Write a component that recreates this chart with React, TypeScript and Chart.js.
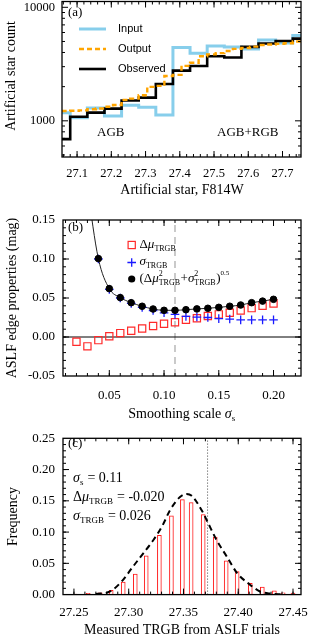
import React, { useEffect, useRef } from 'react';
import { Chart, registerables } from 'chart.js';
Chart.register(...registerables);

const SERIF = '"Liberation Serif", "Times New Roman", Times, serif';
const SANS = '"Liberation Sans", Arial, Helvetica, sans-serif';

// ---------- Panel (a): artificial star luminosity functions ----------
const magEdgesCoarse = [27.03, 27.08, 27.13, 27.18, 27.23, 27.28, 27.33, 27.38, 27.43, 27.48, 27.53, 27.58, 27.63, 27.68, 27.73, 27.78];
const inputCounts = [1180, 1065, 1300, 1100, 1370, 1320, 1125, 4420, 3940, 4560, 4470, 4300, 5150, 4850, 5650];
const observedCounts = [690, 1085, 1180, 1280, 1510, 1600, 2110, 2770, 3040, 3700, 3610, 4480, 4800, 5050, 5300];
const magEdgesFine = [27.03, 27.055, 27.08, 27.105, 27.13, 27.155, 27.18, 27.205, 27.23, 27.255, 27.28, 27.305, 27.33, 27.355, 27.38, 27.405, 27.43, 27.455, 27.48, 27.505, 27.53, 27.555, 27.58, 27.605, 27.63, 27.655, 27.68, 27.705, 27.73, 27.755, 27.78];
const outputCounts = [1210, 1220, 1225, 1235, 1265, 1285, 1330, 1380, 1530, 1570, 1680, 1990, 2030, 2480, 2540, 3050, 3250, 3700, 3850, 3950, 4120, 4300, 4380, 4500, 4650, 4700, 4780, 4830, 5000, 5100];
const aXTicks = [27.1, 27.2, 27.3, 27.4, 27.5, 27.6, 27.7];
const aYTicks = [1000, 10000];
const aYMinor = [500, 600, 700, 800, 900, 2000, 3000, 4000, 5000, 6000, 7000, 8000, 9000];
const aXRange = [27.056, 27.754];
const aYRange = [480, 11250];

// ---------- Panel (b): ASLF edge properties vs smoothing scale ----------
const smoothingScale = [0.02, 0.03, 0.04, 0.05, 0.06, 0.07, 0.08, 0.09, 0.10, 0.11, 0.12, 0.13, 0.14, 0.15, 0.16, 0.17, 0.18, 0.19, 0.20];
const deltaMu = [-0.006, -0.012, -0.004, 0.001, 0.005, 0.008, 0.011, 0.014, 0.017, 0.019, 0.022, 0.024, 0.027, 0.029, 0.031, 0.034, 0.037, 0.040, 0.043];
const sigmaTrgb = [null, null, 0.100, 0.061, 0.050, 0.043, 0.038, 0.034, 0.031, 0.029, 0.0265, 0.0256, 0.025, 0.0235, 0.023, 0.022, 0.022, 0.022, 0.022];
const combinedErr = [null, 0.19, 0.1005, 0.062, 0.0505, 0.044, 0.0394, 0.0359, 0.0342, 0.0342, 0.035, 0.036, 0.0368, 0.038, 0.0394, 0.041, 0.044, 0.046, 0.0483];
const chosenScale = 0.11;
const bXTicks = [0.05, 0.10, 0.15, 0.20];
const bYTicks = [-0.05, 0, 0.05, 0.10, 0.15];
const bXRange = [0.0077, 0.2251];
const bYRange = [-0.05, 0.15];

// ---------- Panel (c): distribution of measured TRGB ----------
const trgbMeasured = [27.251, 27.263, 27.274, 27.284, 27.295, 27.306, 27.316, 27.328, 27.339, 27.349, 27.357, 27.368, 27.379, 27.389, 27.399, 27.411, 27.422, 27.433, 27.441, 27.450];
const trgbFrequency = [0.001, 0.002, 0.003, 0.007, 0.020, 0.033, 0.062, 0.095, 0.126, 0.152, 0.147, 0.128, 0.092, 0.054, 0.037, 0.018, 0.012, 0.006, 0.003, 0.0025];
const gaussX = [27.270, 27.283, 27.2936, 27.304, 27.3133, 27.3224, 27.331, 27.3377, 27.3468, 27.3529, 27.3575, 27.3666, 27.3726, 27.3803, 27.3895, 27.3991, 27.4092, 27.4199, 27.430, 27.440];
const gaussY = [0.0008, 0.005, 0.021, 0.045, 0.066, 0.087, 0.111, 0.135, 0.156, 0.161, 0.158, 0.135, 0.114, 0.087, 0.061, 0.034, 0.018, 0.005, 0.0015, 0.0004];
const trueTrgb = 27.372;
const cXTicks = [27.25, 27.30, 27.35, 27.40, 27.45];
const cYTicks = [0, 0.05, 0.10, 0.15, 0.20, 0.25];
const cXRange = [27.24, 27.4573];
const cYRange = [0, 0.25];

// ---------- helpers ----------
function steps(a: number, b: number, step: number) {
  const out: number[] = [];
  const n = Math.round((b - a) / step);
  for (let i = 0; i <= n; i++) out.push(+(a + i * step).toFixed(6));
  return out;
}

function stepData(edges: number[], vals: number[]) {
  const pts = vals.map((v, i) => ({ x: edges[i], y: v }));
  pts.push({ x: edges[edges.length - 1], y: vals[vals.length - 1] });
  return pts;
}

type Run = { t?: string; it?: boolean; sup?: string; sub?: string; supSize?: number; supDy?: number };

function fnt(size: number, italic?: boolean) {
  return `${italic ? 'italic ' : ''}${size}px ${SERIF}`;
}

function runsWidth(ctx: CanvasRenderingContext2D, runs: Run[], base: number) {
  let w = 0;
  for (const r of runs) {
    if (r.sup !== undefined || r.sub !== undefined) {
      let w1 = 0, w2 = 0;
      if (r.sup) { ctx.font = fnt(r.supSize ?? Math.round(base * 0.62)); w1 = ctx.measureText(r.sup).width; }
      if (r.sub) { ctx.font = fnt(Math.round(base * 0.65)); w2 = ctx.measureText(r.sub).width; }
      w += Math.max(w1, w2) + 0.5;
    } else {
      ctx.font = fnt(base, r.it);
      w += ctx.measureText(r.t || '').width;
    }
  }
  return w;
}

function drawRuns(ctx: CanvasRenderingContext2D, x: number, y: number, runs: Run[], base: number, align: 'left' | 'center' = 'left') {
  ctx.save();
  ctx.fillStyle = '#000';
  ctx.textBaseline = 'middle';
  ctx.textAlign = 'left';
  let cx = align === 'center' ? x - runsWidth(ctx, runs, base) / 2 : x;
  for (const r of runs) {
    if (r.sup !== undefined || r.sub !== undefined) {
      let w1 = 0, w2 = 0;
      if (r.sup) {
        const s = r.supSize ?? Math.round(base * 0.62);
        ctx.font = fnt(s);
        ctx.fillText(r.sup, cx, y + (r.supDy ?? -base * 0.42));
        w1 = ctx.measureText(r.sup).width;
      }
      if (r.sub) {
        ctx.font = fnt(Math.round(base * 0.65));
        ctx.fillText(r.sub, cx, y + base * 0.32);
        w2 = ctx.measureText(r.sub).width;
      }
      cx += Math.max(w1, w2) + 0.5;
    } else {
      ctx.font = fnt(base, r.it);
      ctx.fillText(r.t || '', cx, y);
      cx += ctx.measureText(r.t || '').width;
    }
  }
  ctx.restore();
}

function drawRotated(ctx: CanvasRenderingContext2D, x: number, y: number, runs: Run[], base: number) {
  ctx.save();
  ctx.translate(x, y);
  ctx.rotate(-Math.PI / 2);
  drawRuns(ctx, 0, 0, runs, base, 'center');
  ctx.restore();
}

function framePlugin(xMajor: number[], xMinor: number[], yMajor: number[], yMinor: number[]) {
  return {
    id: 'frameTicks',
    afterDatasetsDraw(chart: any) {
      const { ctx, chartArea, scales } = chart;
      const { left, right, top, bottom } = chartArea;
      ctx.save();
      ctx.strokeStyle = '#000';
      ctx.lineWidth = 1.3;
      ctx.setLineDash([]);
      ctx.strokeRect(left, top, right - left, bottom - top);
      ctx.beginPath();
      const xt = (vals: number[], len: number) => vals.forEach((v) => {
        const p = scales.x.getPixelForValue(v);
        if (p < left + 0.5 || p > right - 0.5) return;
        ctx.moveTo(p, bottom); ctx.lineTo(p, bottom - len);
        ctx.moveTo(p, top); ctx.lineTo(p, top + len);
      });
      const yt = (vals: number[], len: number) => vals.forEach((v) => {
        const p = scales.y.getPixelForValue(v);
        if (p < top + 0.5 || p > bottom - 0.5) return;
        ctx.moveTo(left, p); ctx.lineTo(left + len, p);
        ctx.moveTo(right, p); ctx.lineTo(right - len, p);
      });
      xt(xMinor, 3); xt(xMajor, 6);
      yt(yMinor, 3); yt(yMajor, 6);
      ctx.lineWidth = 1;
      ctx.stroke();
      ctx.restore();
    },
  };
}

function scaleOpts(type: string, range: number[], majors: number[], fmt: (v: number) => string, fontSize: number, pad: number, fixed: number, horizontal: boolean) {
  return {
    type,
    min: range[0],
    max: range[1],
    offset: false,
    grid: { display: false, drawTicks: false, offset: false },
    border: { display: false },
    ticks: {
      autoSkip: false,
      maxRotation: 0,
      minRotation: 0,
      padding: pad,
      color: '#000',
      font: { family: SERIF, size: fontSize },
      callback: (v: any) => fmt(Number(v)),
    },
    afterBuildTicks: (s: any) => { s.ticks = majors.map((v) => ({ value: v })); },
    afterFit: (s: any) => {
      if (horizontal) s.height = fixed; else s.width = fixed;
      s.paddingLeft = 0; s.paddingRight = 0; s.paddingTop = 0; s.paddingBottom = 0;
    },
  };
}

const baseOpts = {
  animation: false,
  responsive: false,
  events: [] as string[],
};

// ---------- chart configs ----------
function configA() {
  const text = {
    id: 'textA',
    afterDraw(chart: any) {
      const ctx: CanvasRenderingContext2D = chart.ctx;
      drawRuns(ctx, 68, 13, [{ t: '(a)' }], 13);
      ctx.save();
      const legendRows = [
        { y: 29, color: '#87CEEB', w: 3, dash: [] as number[], label: 'Input' },
        { y: 49, color: '#FFA500', w: 2.4, dash: [5, 3], label: 'Output' },
        { y: 69, color: '#000000', w: 2.6, dash: [] as number[], label: 'Observed' },
      ];
      legendRows.forEach((r) => {
        ctx.beginPath();
        ctx.strokeStyle = r.color;
        ctx.lineWidth = r.w;
        ctx.setLineDash(r.dash);
        ctx.moveTo(79, r.y); ctx.lineTo(106, r.y);
        ctx.stroke();
        ctx.setLineDash([]);
        ctx.fillStyle = '#000';
        ctx.font = `11px ${SANS}`;
        ctx.textBaseline = 'middle';
        ctx.fillText(r.label, 118, r.y);
      });
      ctx.restore();
      drawRuns(ctx, 97, 132.5, [{ t: 'AGB' }], 13);
      drawRuns(ctx, 217, 132.5, [{ t: 'AGB+RGB' }], 13);
      drawRotated(ctx, 11, 76, [{ t: 'Artificial star count' }], 14);
      drawRuns(ctx, 182, 190, [{ t: 'Artificial star, F814W' }], 14, 'center');
    },
  };
  return {
    type: 'line',
    data: {
      datasets: [
        { label: 'Output', data: stepData(magEdgesFine, outputCounts), stepped: true, borderColor: '#FFA500', borderWidth: 2.4, borderDash: [5, 3], pointRadius: 0, clip: 0, order: 0 },
        { label: 'Observed', data: stepData(magEdgesCoarse, observedCounts), stepped: true, borderColor: '#000000', borderWidth: 2.6, pointRadius: 0, clip: 0, order: 1 },
        { label: 'Input', data: stepData(magEdgesCoarse, inputCounts), stepped: true, borderColor: '#87CEEB', borderWidth: 3, pointRadius: 0, clip: 0, order: 2 },
      ],
    },
    options: {
      ...baseOpts,
      layout: { padding: { top: 1.5, right: 14, left: 0, bottom: 0 } },
      plugins: { legend: { display: false }, tooltip: { enabled: false } },
      scales: {
        x: scaleOpts('linear', aXRange, aXTicks, (v) => v.toFixed(1), 12.5, 9, 43, true),
        y: scaleOpts('logarithmic', aYRange, aYTicks, (v) => String(Math.round(v)), 12.5, 7, 62, false),
      },
    },
    plugins: [framePlugin(aXTicks, steps(27.06, 27.74, 0.02), aYTicks, aYMinor), text],
  };
}

function configB() {
  const text = {
    id: 'textB',
    afterDraw(chart: any) {
      const ctx: CanvasRenderingContext2D = chart.ctx;
      drawRuns(ctx, 68, 28, [{ t: '(b)' }], 13);
      ctx.save();
      // legend symbols
      ctx.strokeStyle = '#ff2a2a'; ctx.lineWidth = 1.2;
      ctx.strokeRect(131.7 - 3.6, 45 - 3.6, 7.2, 7.2);
      ctx.strokeStyle = '#1a1aff'; ctx.lineWidth = 1.3;
      ctx.beginPath();
      ctx.moveTo(131.7 - 4.3, 62.5); ctx.lineTo(131.7 + 4.3, 62.5);
      ctx.moveTo(131.7, 62.5 - 4.3); ctx.lineTo(131.7, 62.5 + 4.3);
      ctx.stroke();
      ctx.fillStyle = '#000';
      ctx.beginPath(); ctx.arc(131.7, 79, 3.6, 0, Math.PI * 2); ctx.fill();
      ctx.restore();
      drawRuns(ctx, 139.5, 45, [{ t: 'Δ' }, { t: 'μ', it: true }, { sub: 'TRGB' }], 13);
      drawRuns(ctx, 139.5, 61.5, [{ t: 'σ', it: true }, { sub: 'TRGB' }], 13);
      drawRuns(ctx, 139.5, 79, [
        { t: '(Δ' }, { t: 'μ', it: true }, { sup: '2', sub: 'TRGB' }, { t: '+' }, { t: 'σ', it: true },
        { sup: '2', sub: 'TRGB' }, { t: ')' }, { sup: '0.5', supSize: 7, supDy: -6 },
      ], 13);
      drawRotated(ctx, 12, 98, [{ t: 'ASLF edge properties (mag)' }], 14);
      drawRuns(ctx, 182, 214, [{ t: 'Smoothing scale ' }, { t: 'σ', it: true }, { sub: 's' }], 14, 'center');
    },
  };
  return {
    type: 'line',
    data: {
      datasets: [
        { label: 'combined', data: smoothingScale.map((s, i) => ({ x: s, y: combinedErr[i] })), showLine: false, pointStyle: 'circle', pointRadius: 3.3, pointBorderWidth: 1, pointBackgroundColor: '#000', pointBorderColor: '#000', order: 0 },
        { label: 'sigma', data: smoothingScale.map((s, i) => ({ x: s, y: sigmaTrgb[i] })), showLine: false, pointStyle: 'cross', pointRadius: 4.3, pointBorderWidth: 1.3, pointBorderColor: '#1a1aff', order: 1 },
        { label: 'curve', data: smoothingScale.map((s, i) => ({ x: s, y: combinedErr[i] })), borderColor: '#222', borderWidth: 1, pointRadius: 0, cubicInterpolationMode: 'monotone', spanGaps: true, clip: 0, order: 2 },
        { label: 'deltaMu', data: smoothingScale.map((s, i) => ({ x: s, y: deltaMu[i] })), showLine: false, pointStyle: 'rect', pointRadius: 5.1, pointBorderWidth: 1.2, pointBorderColor: '#ff2a2a', pointBackgroundColor: 'rgba(0,0,0,0)', order: 3 },
        { label: 'zero', data: [{ x: bXRange[0], y: 0 }, { x: bXRange[1], y: 0 }], borderColor: '#000', borderWidth: 1, pointRadius: 0, clip: 0, order: 4 },
        { label: 'chosen', data: [{ x: chosenScale, y: bYRange[0] }, { x: chosenScale, y: bYRange[1] }], borderColor: '#bdbdbd', borderWidth: 1.6, borderDash: [7, 5], pointRadius: 0, clip: 0, order: 5 },
      ],
    },
    options: {
      ...baseOpts,
      layout: { padding: { top: 20, right: 14, left: 0, bottom: 12 } },
      plugins: { legend: { display: false }, tooltip: { enabled: false } },
      scales: {
        x: scaleOpts('linear', bXRange, bXTicks, (v) => v.toFixed(2), 13, 12, 44, true),
        y: scaleOpts('linear', bYRange, bYTicks, (v) => (Math.abs(v) < 1e-9 ? '0.00' : v.toFixed(2)), 13, 8, 63, false),
      },
    },
    plugins: [framePlugin(bXTicks, steps(0.01, 0.22, 0.01), bYTicks, steps(-0.05, 0.15, 0.01)), text],
  };
}

function configC() {
  const text = {
    id: 'textC',
    afterDraw(chart: any) {
      const ctx: CanvasRenderingContext2D = chart.ctx;
      drawRuns(ctx, 68, 24, [{ t: '(c)' }], 13);
      drawRuns(ctx, 73, 58, [{ t: 'σ', it: true }, { sub: 's' }, { t: ' = 0.11' }], 14);
      drawRuns(ctx, 73, 77, [{ t: 'Δ' }, { t: 'μ', it: true }, { sub: 'TRGB' }, { t: ' = -0.020' }], 14);
      drawRuns(ctx, 73, 96, [{ t: 'σ', it: true }, { sub: 'TRGB' }, { t: ' = 0.026' }], 14);
      drawRotated(ctx, 13, 96.5, [{ t: 'Frequency' }], 14);
      drawRuns(ctx, 182, 210, [{ t: 'Measured TRGB from ASLF trials' }], 14, 'center');
    },
  };
  return {
    type: 'bar',
    data: {
      datasets: [
        { type: 'line', label: 'gauss', data: gaussX.map((x, i) => ({ x, y: gaussY[i] })), borderColor: '#000', borderWidth: 2, borderDash: [6, 4], pointRadius: 0, cubicInterpolationMode: 'monotone', clip: 0, order: 0 },
        { type: 'line', label: 'true', data: [{ x: trueTrgb, y: cYRange[0] }, { x: trueTrgb, y: cYRange[1] }], borderColor: '#444', borderWidth: 1, borderDash: [1, 2], pointRadius: 0, clip: 0, order: 1 },
        { type: 'bar', label: 'freq', data: trgbMeasured.map((x, i) => ({ x, y: trgbFrequency[i] })), backgroundColor: '#ffffff', borderColor: '#ff1a1a', borderWidth: 1, barThickness: 4, borderSkipped: false, order: 2 },
      ],
    },
    options: {
      ...baseOpts,
      layout: { padding: { top: 18.3, right: 14, left: 0, bottom: 0 } },
      plugins: { legend: { display: false }, tooltip: { enabled: false } },
      scales: {
        x: scaleOpts('linear', cXRange, cXTicks, (v) => v.toFixed(2), 13, 10, 43.4, true),
        y: scaleOpts('linear', cYRange, cYTicks, (v) => v.toFixed(2), 13, 8, 63, false),
      },
    },
    plugins: [framePlugin(cXTicks, steps(27.24, 27.45, 0.01), cYTicks, steps(0, 0.25, 0.01)), text],
  };
}

function ChartCanvas({ top, height, build }: { top: number; height: number; build: () => any }) {
  const ref = useRef<HTMLCanvasElement>(null);
  useEffect(() => {
    const chart = new Chart(ref.current as HTMLCanvasElement, build());
    return () => chart.destroy();
  }, []);
  return (
    <canvas
      ref={ref}
      width={315}
      height={height}
      style={{ position: 'absolute', left: 0, top, width: 315, height, display: 'block' }}
    />
  );
}

export default function App() {
  return (
    <div style={{ position: 'absolute', left: 0, top: 0, width: 315, height: 638, background: '#fff', overflow: 'hidden' }}>
      <ChartCanvas top={0} height={200} build={configA} />
      <ChartCanvas top={200} height={232} build={configB} />
      <ChartCanvas top={420} height={218} build={configC} />
    </div>
  );
}
